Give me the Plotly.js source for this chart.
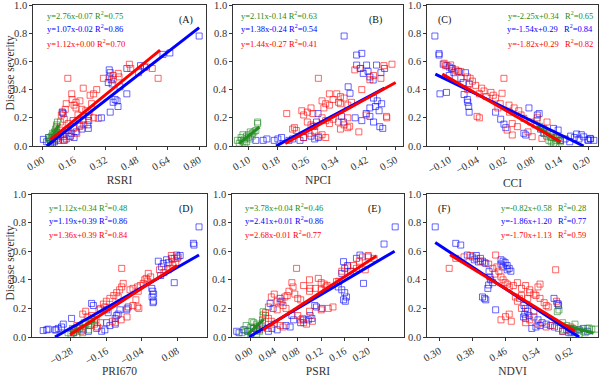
<!DOCTYPE html>
<html>
<head>
<meta charset="utf-8">
<script src="https://cdn.plot.ly/plotly-3.0.1.min.js"></script>
<style>html,body{margin:0;padding:0;background:#fff}#chart{width:600px;height:377px}</style>
</head>
<body>
<div id="chart"></div>
<script>
// ---------- Panel A : RSRI ----------
const aGreenX = [0.030,0.035,0.040,0.045,0.050,0.050,0.055,0.060,0.065,0.070,0.075,0.040,0.060,0.030,0.050,0.065];
const aGreenY = [0.030,0.050,0.040,0.070,0.060,0.090,0.080,0.100,0.120,0.150,0.170,0.020,0.050,0.060,0.040,0.090];
const aBlueX = [0.80,0.65,0.615,0.52,0.50,0.43,0.34,0.345,0.34,0.35,0.355,0.335,0.395,0.43,0.37,0.38,0.36,0.385,0.345,0.233,0.235,0.233,0.23,0.30,0.10,0.105,0.155,0.19,0.148,0.003,0.03,0.105,0.06,0.08,0.12,0.14,0.17,0.04,0.09,0.20,0.13,0.02,0.05,0.07,0.11,0.16];
const aBlueY = [0.78,0.66,0.65,0.56,0.57,0.55,0.54,0.52,0.49,0.47,0.44,0.45,0.42,0.37,0.33,0.32,0.31,0.28,0.24,0.21,0.18,0.125,0.15,0.20,0.24,0.23,0.18,0.14,0.09,0.047,0.06,0.066,0.03,0.04,0.05,0.07,0.10,0.02,0.08,0.12,0.11,0.03,0.02,0.05,0.04,0.06];
const aRedX = [0.59,0.443,0.45,0.386,0.39,0.31,0.36,0.128,0.276,0.26,0.207,0.242,0.148,0.15,0.17,0.19,0.16,0.12,0.115,0.10,0.095,0.17,0.20,0.22,0.24,0.284,0.26,0.072,0.088,0.123,0.156,0.19,0.207,0.14,0.08,0.105,0.174,0.53,0.56,0.49,0.36,0.06,0.10,0.13,0.11,0.09,0.07,0.21,0.25,0.18];
const aRedY = [0.48,0.58,0.55,0.515,0.49,0.48,0.47,0.48,0.40,0.37,0.41,0.36,0.37,0.33,0.31,0.32,0.29,0.30,0.26,0.24,0.22,0.27,0.26,0.25,0.24,0.196,0.20,0.137,0.113,0.113,0.125,0.149,0.184,0.066,0.066,0.043,0.09,0.56,0.55,0.52,0.50,0.05,0.08,0.16,0.19,0.17,0.10,0.15,0.30,0.22];
const aFitGreenX = [0.03,0.08], aFitGreenY = [0.01,0.15];
const aFitBlueX = [0.02,0.80], aFitBlueY = [0.0,0.84];
const aFitRedX = [0.04,0.60], aFitRedY = [0.045,0.68];

// ---------- Panel B : NPCI ----------
const bGreenX = [0.075,0.08,0.085,0.09,0.08,0.095,0.10,0.10,0.105,0.11,0.115,0.12,0.125,0.125,0.09,0.085,0.11,0.07,0.095,0.105];
const bGreenY = [0.02,0.04,0.03,0.05,0.06,0.07,0.06,0.08,0.05,0.09,0.10,0.11,0.16,0.17,0.02,0.08,0.07,0.04,0.03,0.10];
const bBlueX = [0.36,0.408,0.394,0.394,0.421,0.448,0.412,0.43,0.439,0.371,0.376,0.44,0.45,0.462,0.445,0.43,0.455,0.42,0.43,0.39,0.408,0.44,0.457,0.465,0.353,0.358,0.289,0.285,0.276,0.29,0.28,0.27,0.25,0.24,0.22,0.21,0.19,0.18,0.17,0.15,0.14,0.12,0.47,0.46,0.405,0.425];
const bBlueY = [0.78,0.657,0.645,0.574,0.574,0.574,0.515,0.49,0.468,0.42,0.374,0.34,0.32,0.30,0.28,0.27,0.25,0.23,0.21,0.20,0.18,0.17,0.137,0.125,0.21,0.17,0.23,0.17,0.14,0.06,0.05,0.07,0.06,0.04,0.05,0.04,0.06,0.05,0.04,0.05,0.04,0.04,0.55,0.52,0.55,0.53];
const bRedX = [0.29,0.389,0.403,0.468,0.49,0.43,0.44,0.46,0.408,0.32,0.34,0.35,0.33,0.345,0.36,0.37,0.38,0.35,0.30,0.31,0.32,0.305,0.27,0.245,0.25,0.26,0.275,0.204,0.22,0.23,0.225,0.26,0.27,0.28,0.30,0.31,0.32,0.33,0.345,0.35,0.37,0.375,0.36,0.30,0.31,0.29,0.28,0.265,0.25,0.37,0.475,0.476,0.40,0.42];
const bRedY = [0.48,0.54,0.55,0.57,0.58,0.47,0.50,0.48,0.40,0.37,0.37,0.35,0.33,0.31,0.34,0.29,0.31,0.30,0.32,0.30,0.29,0.27,0.27,0.25,0.22,0.24,0.23,0.23,0.12,0.11,0.13,0.17,0.15,0.14,0.20,0.18,0.16,0.19,0.17,0.12,0.20,0.14,0.15,0.08,0.06,0.07,0.10,0.09,0.06,0.13,0.21,0.20,0.10,0.22];
const bFitGreenX = [0.075,0.13], bFitGreenY = [0.018,0.135];
const bFitBlueX = [0.175,0.47], bFitBlueY = [0.0,0.41];
const bFitRedX = [0.20,0.50], bFitRedY = [0.018,0.45];

// ---------- Panel C : CCI ----------
const cGreenX = [0.089,0.10,0.11,0.11,0.12,0.12,0.125,0.13,0.13,0.135,0.14,0.115,0.105,0.119,0.132,0.095,0.125];
const cGreenY = [0.18,0.12,0.10,0.07,0.06,0.03,0.02,0.04,0.015,0.05,0.03,0.04,0.09,0.066,0.055,0.14,0.08];
const cBlueX = [-0.131,-0.122,-0.122,-0.113,-0.105,-0.10,-0.095,-0.09,-0.10,-0.08,-0.075,-0.065,-0.07,-0.057,-0.12,-0.106,-0.068,-0.061,-0.06,-0.058,-0.057,0.0,0.011,0.018,0.022,0.072,0.09,0.094,0.061,0.065,0.125,0.135,0.162,0.17,0.18,0.19,0.20,0.205,0.199,0.204,0.14,0.15,0.16,0.097,0.104,0.212,0.185,0.175];
const cBlueY = [0.78,0.655,0.645,0.58,0.57,0.56,0.55,0.52,0.50,0.53,0.48,0.52,0.45,0.44,0.37,0.38,0.365,0.33,0.31,0.28,0.24,0.24,0.19,0.155,0.13,0.27,0.22,0.23,0.09,0.078,0.125,0.113,0.07,0.06,0.05,0.065,0.04,0.05,0.043,0.054,0.04,0.05,0.03,0.12,0.09,0.04,0.08,0.085];
const cRedX = [-0.111,-0.108,-0.097,-0.093,-0.086,-0.083,-0.075,-0.061,-0.055,-0.05,-0.043,-0.03,-0.025,-0.035,-0.02,-0.01,0.0,-0.005,0.018,-0.04,-0.035,0.014,0.029,0.01,0.005,0.04,0.03,0.05,0.061,0.076,0.036,0.047,0.025,0.036,0.07,0.079,0.10,0.104,0.111,0.12,0.13,0.14,0.055,0.085,0.09,-0.06];
const cRedY = [0.587,0.57,0.575,0.55,0.54,0.53,0.527,0.49,0.48,0.46,0.43,0.41,0.39,0.37,0.35,0.38,0.34,0.36,0.48,0.21,0.20,0.374,0.29,0.30,0.27,0.27,0.24,0.25,0.196,0.17,0.16,0.137,0.113,0.078,0.10,0.066,0.054,0.125,0.17,0.09,0.06,0.04,0.22,0.15,0.20,0.40];
const cFitGreenX = [0.09,0.14], cFitGreenY = [0.137,0.025];
const cFitBlueX = [-0.13,0.19], cFitBlueY = [0.51,0.0];
const cFitRedX = [-0.115,0.14], cFitRedY = [0.51,0.03];

// ---------- Panel D : PRI670 ----------
const dGreenX = [-0.29,-0.28,-0.27,-0.26,-0.25,-0.24,-0.23,-0.22,-0.21,-0.20,-0.26,-0.24,-0.22,-0.275,-0.235];
const dGreenY = [0.03,0.02,0.05,0.04,0.07,0.06,0.09,0.08,0.11,0.12,0.01,0.03,0.05,0.06,0.10];
const dBlueX = [0.154,0.135,0.137,0.078,0.083,0.061,0.044,0.033,0.016,0.027,0.024,0.07,-0.006,-0.003,0.0,-0.005,0.0,-0.002,-0.086,-0.091,-0.114,-0.12,-0.13,-0.125,-0.159,-0.154,-0.21,-0.204,-0.278,-0.306,-0.312,-0.33,-0.323,-0.334,-0.362,-0.374,-0.357,-0.272,-0.238,-0.221,-0.193,-0.176,-0.165,-0.159,-0.148,-0.13,0.05,0.09];
const dBlueY = [0.77,0.655,0.643,0.573,0.56,0.55,0.54,0.515,0.53,0.49,0.43,0.38,0.34,0.32,0.30,0.28,0.25,0.24,0.21,0.19,0.19,0.16,0.13,0.15,0.19,0.17,0.235,0.22,0.13,0.09,0.07,0.05,0.06,0.05,0.05,0.045,0.055,0.03,0.05,0.04,0.06,0.04,0.05,0.10,0.08,0.09,0.52,0.57];
const dRedX = [-0.108,0.06,0.07,0.075,0.065,0.055,0.05,0.08,-0.018,-0.01,-0.025,-0.02,-0.035,-0.045,-0.055,-0.07,-0.08,-0.052,-0.03,-0.103,-0.108,-0.115,-0.125,-0.135,-0.12,-0.148,-0.16,-0.17,-0.165,-0.18,-0.185,-0.06,-0.05,-0.07,-0.09,-0.055,-0.23,-0.24,-0.225,-0.21,-0.195,-0.18,-0.20,-0.215,-0.19,-0.26,-0.25,-0.245,-0.265,-0.13,-0.11,-0.09,-0.14,0.02,0.035,-0.27];
const dRedY = [0.48,0.57,0.55,0.52,0.50,0.48,0.47,0.55,0.445,0.42,0.41,0.39,0.375,0.36,0.35,0.34,0.33,0.32,0.40,0.375,0.35,0.33,0.31,0.29,0.28,0.27,0.25,0.23,0.21,0.20,0.19,0.26,0.20,0.22,0.20,0.21,0.18,0.16,0.14,0.15,0.12,0.10,0.09,0.08,0.07,0.08,0.06,0.04,0.05,0.10,0.12,0.14,0.11,0.47,0.45,0.03];
const dFitGreenX = [-0.28,-0.20], dFitGreenY = [0.026,0.116];
const dFitBlueX = [-0.334,0.154], dFitBlueY = [0.0,0.573];
const dFitRedX = [-0.283,0.08], dFitRedY = [0.015,0.50];

// ---------- Panel E : PSRI ----------
const eGreenX = [-0.015,-0.01,-0.005,0.0,0.005,0.01,0.015,0.02,0.021,0.021,0.01,0.0,0.015,0.002,-0.008,0.005];
const eGreenY = [0.03,0.05,0.04,0.07,0.06,0.09,0.08,0.10,0.177,0.154,0.02,0.02,0.04,0.107,0.08,0.10];
const eBlueX = [0.246,0.227,0.186,0.20,0.18,0.158,0.165,0.16,0.17,0.155,0.192,0.149,0.155,0.16,0.163,0.158,0.161,0.109,0.112,0.121,0.101,0.104,0.098,0.05,0.053,0.038,0.033,0.07,0.073,0.067,-0.024,-0.02,-0.012,-0.005,0.005,0.012,0.02,0.03,0.036,0.045,0.06,0.085,0.09];
const eBlueY = [0.77,0.65,0.573,0.56,0.55,0.527,0.50,0.48,0.46,0.445,0.375,0.35,0.33,0.31,0.28,0.26,0.25,0.22,0.21,0.20,0.15,0.13,0.12,0.27,0.25,0.20,0.235,0.15,0.12,0.07,0.04,0.03,0.05,0.04,0.06,0.05,0.07,0.04,0.06,0.05,0.08,0.10,0.12];
const eRedX = [0.078,0.20,0.19,0.21,0.185,0.175,0.18,0.195,0.165,0.155,0.115,0.10,0.12,0.125,0.13,0.128,0.146,0.15,0.11,0.12,0.10,0.09,0.101,0.07,0.072,0.065,0.062,0.058,0.075,0.08,0.085,0.04,0.035,0.045,0.05,0.055,0.06,0.045,0.03,0.025,0.132,0.14,0.12,0.10,0.025,0.03,0.035,0.04,0.05,0.055,0.02,0.028,0.015,0.01,0.08,0.085,0.09,0.088,0.095,0.105];
const eRedY = [0.48,0.57,0.56,0.55,0.53,0.50,0.48,0.47,0.49,0.46,0.41,0.40,0.38,0.37,0.36,0.35,0.387,0.39,0.34,0.33,0.32,0.36,0.34,0.38,0.35,0.32,0.29,0.28,0.30,0.27,0.26,0.30,0.28,0.25,0.24,0.22,0.20,0.19,0.21,0.17,0.20,0.21,0.19,0.18,0.15,0.13,0.11,0.09,0.08,0.07,0.12,0.06,0.05,0.07,0.15,0.12,0.10,0.13,0.09,0.11];
const eFitGreenX = [-0.006,0.022], eFitGreenY = [0.017,0.123];
const eFitBlueX = [-0.003,0.245], eFitBlueY = [0.0,0.60];
const eFitRedX = [0.021,0.214], eFitRedY = [0.05,0.566];

// ---------- Panel F : NDVI ----------
const fGreenX = [0.587,0.591,0.60,0.61,0.62,0.63,0.64,0.65,0.66,0.664,0.671,0.62,0.60,0.64,0.655,0.68];
const fGreenY = [0.177,0.189,0.10,0.08,0.06,0.09,0.05,0.04,0.06,0.063,0.055,0.03,0.05,0.02,0.03,0.055];
const fBlueX = [0.29,0.34,0.352,0.368,0.38,0.39,0.40,0.385,0.395,0.405,0.413,0.45,0.455,0.46,0.465,0.47,0.474,0.465,0.455,0.45,0.421,0.423,0.425,0.42,0.418,0.43,0.405,0.41,0.413,0.437,0.506,0.51,0.515,0.508,0.505,0.51,0.518,0.53,0.54,0.55,0.56,0.57,0.58,0.545,0.535,0.525,0.579,0.587,0.59,0.61,0.62,0.63,0.64,0.65,0.66,0.615,0.60];
const fBlueY = [0.77,0.655,0.643,0.573,0.56,0.57,0.55,0.54,0.525,0.53,0.515,0.54,0.53,0.52,0.50,0.48,0.46,0.47,0.49,0.51,0.457,0.42,0.40,0.364,0.34,0.38,0.28,0.27,0.26,0.19,0.22,0.20,0.18,0.16,0.14,0.13,0.15,0.14,0.12,0.10,0.09,0.08,0.07,0.08,0.07,0.06,0.27,0.235,0.22,0.05,0.04,0.03,0.05,0.06,0.04,0.03,0.04];
const fRedX = [0.324,0.34,0.36,0.375,0.39,0.40,0.41,0.42,0.437,0.43,0.44,0.445,0.435,0.45,0.455,0.46,0.465,0.47,0.48,0.49,0.50,0.51,0.52,0.53,0.50,0.515,0.495,0.485,0.49,0.52,0.54,0.545,0.535,0.545,0.555,0.56,0.565,0.583,0.585,0.59,0.461,0.47,0.475,0.45,0.51,0.52,0.54,0.56,0.575,0.59,0.60,0.615,0.62,0.625,0.50,0.53];
const fRedY = [0.48,0.55,0.56,0.57,0.55,0.53,0.52,0.51,0.573,0.48,0.49,0.46,0.44,0.42,0.40,0.38,0.37,0.35,0.36,0.38,0.34,0.36,0.33,0.30,0.29,0.27,0.27,0.28,0.25,0.31,0.35,0.37,0.29,0.27,0.24,0.22,0.21,0.47,0.25,0.23,0.142,0.16,0.11,0.12,0.10,0.12,0.09,0.07,0.08,0.06,0.04,0.05,0.07,0.06,0.20,0.18];
const fFitGreenX = [0.58,0.675], fFitGreenY = [0.104,0.026];
const fFitBlueX = [0.29,0.64], fFitBlueY = [0.66,0.0];
const fFitRedX = [0.326,0.63], fFitRedY = [0.575,0.04];

// ---------- Labels & ticks ----------
const xTitles = ['RSRI','NPCI','CCI','PRI670','PSRI','NDVI'];
const yTitle = 'Disease severity';
const panelLabels = ['(A)','(B)','(C)','(D)','(E)','(F)'];
const xTicksA = [0.00,0.16,0.32,0.48,0.64,0.80];
const xTicksB = [0.10,0.18,0.26,0.34,0.42,0.50];
const xTicksC = [-0.10,-0.04,0.02,0.08,0.14,0.20];
const xTicksD = [-0.28,-0.16,-0.04,0.08];
const xTicksE = [0.00,0.04,0.08,0.12,0.16,0.20];
const xTicksF = [0.30,0.38,0.46,0.54,0.62];
const yTicks = [0.0,0.2,0.4,0.6,0.8,1.0];
const yTickText = ['0.0','0.2','0.4','0.6','0.8','1.0'];
const eqGreen = ['y=2.76x-0.07 R<sup>2</sup>=0.75','y=2.11x-0.14 R<sup>2</sup>=0.63','y=-2.25x+0.34\u00a0\u00a0\u00a0R<sup>2</sup>=0.65','y=1.12x+0.34 R<sup>2</sup>=0.48','y=3.78x+0.04 R<sup>2</sup>=0.46','y=-0.82x+0.58\u00a0\u00a0\u00a0R<sup>2</sup>=0.28'];
const eqBlue = ['y=1.07x-0.02 R<sup>2</sup>=0.86','y=1.38x-0.24 R<sup>2</sup>=0.54','y=-1.54x+0.29\u00a0\u00a0\u00a0R<sup>2</sup>=0.84','y=1.19x+0.39 R<sup>2</sup>=0.86','y=2.41x+0.01 R<sup>2</sup>=0.86','y=-1.86x+1.20\u00a0\u00a0\u00a0R<sup>2</sup>=0.77'];
const eqRed = ['y=1.12x+0.00 R<sup>2</sup>=0.70','y=1.44x-0.27 R<sup>2</sup>=0.41','y=-1.82x+0.29\u00a0\u00a0\u00a0R<sup>2</sup>=0.82','y=1.36x+0.39 R<sup>2</sup>=0.84','y=2.68x-0.01 R<sup>2</sup>=0.77','y=-1.70x+1.13\u00a0\u00a0\u00a0R<sup>2</sup>=0.59'];

// ---------- Build ----------
const panels = [
  {g:[aGreenX,aGreenY], b:[aBlueX,aBlueY], r:[aRedX,aRedY], fg:[aFitGreenX,aFitGreenY], fb:[aFitBlueX,aFitBlueY], fr:[aFitRedX,aFitRedY], ticks:xTicksA, range:[-0.05,0.835], dom:[33,206], row:0, eqx:0.069, eqAnchor:'left', labx:0.884},
  {g:[bGreenX,bGreenY], b:[bBlueX,bBlueY], r:[bRedX,bRedY], fg:[bFitGreenX,bFitGreenY], fb:[bFitBlueX,bFitBlueY], fr:[bFitRedX,bFitRedY], ticks:xTicksB, range:[0.058,0.52], dom:[233,403], row:0, eqx:0.035, eqAnchor:'left', labx:0.84},
  {g:[cGreenX,cGreenY], b:[cBlueX,cBlueY], r:[cRedX,cRedY], fg:[cFitGreenX,cFitGreenY], fb:[cFitBlueX,cFitBlueY], fr:[cFitRedX,cFitRedY], ticks:xTicksC, range:[-0.148,0.221], dom:[427,598], row:0, eqx:0.98, eqAnchor:'right', labx:0.10},
  {g:[dGreenX,dGreenY], b:[dBlueX,dBlueY], r:[dRedX,dRedY], fg:[dFitGreenX,dFitGreenY], fb:[dFitBlueX,dFitBlueY], fr:[dFitRedX,dFitRedY], ticks:xTicksD, range:[-0.412,0.181], dom:[32,207], row:1, eqx:0.086, eqAnchor:'left', labx:0.88},
  {g:[eGreenX,eGreenY], b:[eBlueX,eBlueY], r:[eRedX,eRedY], fg:[eFitGreenX,eFitGreenY], fb:[eFitBlueX,eFitBlueY], fr:[eFitRedX,eFitRedY], ticks:xTicksE, range:[-0.032,0.261], dom:[232,404], row:1, eqx:0.064, eqAnchor:'left', labx:0.83},
  {g:[fGreenX,fGreenY], b:[fBlueX,fBlueY], r:[fRedX,fRedY], fg:[fFitGreenX,fFitGreenY], fb:[fFitBlueX,fFitBlueY], fr:[fFitRedX,fFitRedY], ticks:xTicksF, range:[0.270,0.686], dom:[427,598], row:1, eqx:0.94, eqAnchor:'right', labx:0.10}
];

const W = 600, H = 377;
const rowPix = [[5,146],[194,337]];
const GREEN = '#228B22', BLUE = '#0000FF', RED = '#FF0000';
const FONT = 'Liberation Serif, Times New Roman, serif';
const traces = [];
const layout = {
  width: W, height: H,
  margin: {l:0, r:0, t:0, b:0},
  paper_bgcolor: '#fff', plot_bgcolor: '#fff',
  showlegend: false,
  font: {family: FONT, color: '#222'},
  annotations: []
};

function scat(xy, color, xa, ya) {
  return {x: xy[0], y: xy[1], xaxis: xa, yaxis: ya, type: 'scatter', mode: 'markers',
    marker: {symbol: 'square-open', size: 6, color: color, opacity: 0.6, line: {width: 1, color: color}},
    hoverinfo: 'skip'};
}
function fit(xy, color, xa, ya) {
  return {x: xy[0], y: xy[1], xaxis: xa, yaxis: ya, type: 'scatter', mode: 'lines',
    line: {color: color, width: 3}, hoverinfo: 'skip'};
}

panels.forEach((p, i) => {
  const n = i + 1;
  const xa = n === 1 ? 'x' : 'x' + n;
  const ya = n === 1 ? 'y' : 'y' + n;
  traces.push(scat(p.b, BLUE, xa, ya));
  traces.push(scat(p.r, RED, xa, ya));
  traces.push(scat(p.g, GREEN, xa, ya));
  traces.push(fit(p.fg, GREEN, xa, ya));
  traces.push(fit(p.fb, BLUE, xa, ya));
  traces.push(fit(p.fr, RED, xa, ya));

  const rp = rowPix[p.row];
  const common = {showline: true, mirror: true, linecolor: '#333', linewidth: 1, ticks: 'outside', ticklen: 3,
    tickcolor: '#333', showgrid: false, zeroline: false, ticklabeloverflow: 'allow', automargin: false};
  layout['xaxis' + (n === 1 ? '' : n)] = Object.assign({}, common, {
    domain: [p.dom[0] / W, p.dom[1] / W], anchor: ya, range: p.range,
    tickmode: 'array', tickvals: p.ticks, tickformat: '.2f', tickangle: -30, showticklabels: true,
    tickfont: {size: 10.5, color: '#333', family: FONT},
    title: {text: xTitles[i], font: {size: 11.5, color: '#333', family: FONT}, standoff: 4}
  });
  layout['yaxis' + (n === 1 ? '' : n)] = Object.assign({}, common, {
    domain: [1 - rp[1] / H, 1 - rp[0] / H], anchor: xa, range: [0, 1],
    tickmode: 'array', tickvals: yTicks, showticklabels: false
  });

  const xr = xa + ' domain', yr = ya + ' domain';
  // y tick labels: the y range is [0, 1], so each tick value is also its fraction of the axis
  yTicks.forEach((v, k) => {
    layout.annotations.push({xref: xr, yref: yr, x: 0, y: v, xanchor: 'right', yanchor: 'middle', xshift: -4,
      text: yTickText[k], showarrow: false, font: {size: 10.5, color: '#333', family: FONT}});
  });
  if (i === 0 || i === 3) {
    layout.annotations.push({xref: 'paper', yref: 'paper', x: 10 / W, y: 1 - ((rp[0] + rp[1]) / 2 - 2) / H,
      xanchor: 'center', yanchor: 'middle', textangle: -90, text: yTitle, showarrow: false,
      font: {size: 11.5, color: '#333', family: FONT}});
  }

  const eqY = p.row === 0 ? [0.929, 0.83, 0.73] : [0.904, 0.818, 0.72];
  [[eqGreen, GREEN], [eqBlue, BLUE], [eqRed, RED]].forEach((e, k) => {
    layout.annotations.push({xref: xr, yref: yr, x: p.eqx, y: eqY[k], xanchor: p.eqAnchor, yanchor: 'middle',
      text: e[0][i], showarrow: false, font: {size: 8.5, color: e[1], family: FONT}});
  });
  layout.annotations.push({xref: xr, yref: yr, x: p.labx, y: p.row === 0 ? 0.894 : 0.895, xanchor: 'center', yanchor: 'middle',
    text: panelLabels[i], showarrow: false, font: {size: 10, color: '#111', family: FONT}});
});

Plotly.newPlot('chart', traces, layout, {staticPlot: true, displayModeBar: false});
</script>
</body>
</html>
